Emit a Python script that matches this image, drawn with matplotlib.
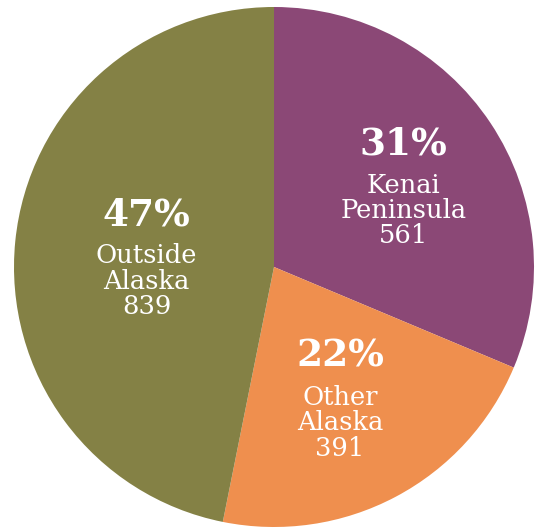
import matplotlib.pyplot as plt
import numpy as np

# where visitors came from
labels = ["Kenai\nPeninsula", "Other\nAlaska", "Outside\nAlaska"]
counts = [561, 391, 839]
pcts = ["31%", "22%", "47%"]
colors = ["#8B4876", "#EF8F4E", "#848145"]

# label anchor (fraction of radius) and angle tweak per wedge
label_r = [0.58, 0.58, 0.49]
label_da = [-3, -2, 3]

fig = plt.figure(figsize=(5.4, 5.29), dpi=100)
ax = fig.add_axes([0, 0, 1, 1])

wedges, _ = ax.pie(counts, colors=colors, startangle=90, counterclock=False,
                   radius=1.0, center=(0, 0), wedgeprops=dict(linewidth=0))

for w, lab, n, p, r, da in zip(wedges, labels, counts, pcts, label_r, label_da):
    mid = np.deg2rad((w.theta1 + w.theta2) / 2 + da)
    x, y = r * np.cos(mid), r * np.sin(mid)
    ax.text(x, y + 0.178, p, ha="center", va="center", color="white",
            fontsize=27, fontweight="bold", family="DejaVu Serif")
    ax.text(x, y - 0.078, f"{lab}\n{n}", ha="center", va="center", color="white",
            fontsize=18.5, family="DejaVu Serif", linespacing=1.02)

ax.set_xlim(-274 / 260, 266 / 260)
ax.set_ylim(-262 / 260, 267 / 260)
ax.set_aspect("auto")
ax.axis("off")

plt.savefig("out.png", dpi=100, facecolor="white")
